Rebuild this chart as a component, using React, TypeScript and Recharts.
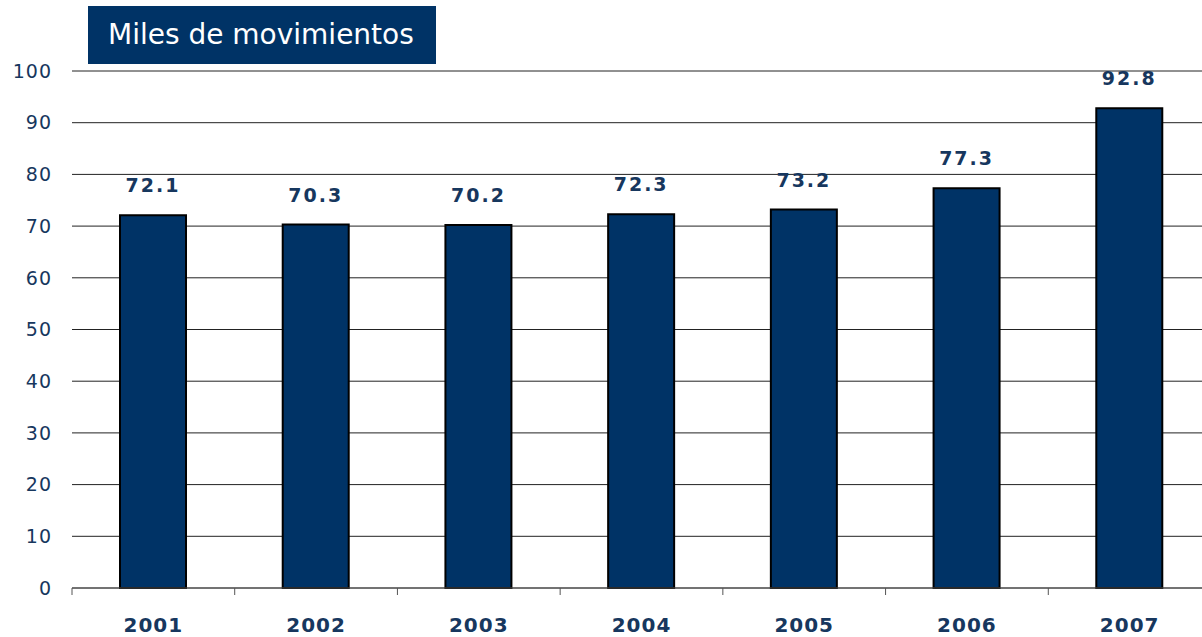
import { BarChart, Bar, XAxis, YAxis, CartesianGrid, LabelList } from 'recharts';

const years = ['2001', '2002', '2003', '2004', '2005', '2006', '2007'];
const movimientos = [72.1, 70.3, 70.2, 72.3, 73.2, 77.3, 92.8];
const yTicks = [0, 10, 20, 30, 40, 50, 60, 70, 80, 90, 100];

const data = years.map((year, i) => ({ year, value: movimientos[i] }));

const CHART_W = 1220;
const CHART_H = 637;
const LEFT = 72;
const RIGHT = 9;
const BAND = (CHART_W - LEFT - RIGHT) / years.length;

const navy = '#003366';
const textNavy = '#17375e';
const font = '"DejaVu Sans", Verdana, sans-serif';

const YearTick = (props: any) => {
  const { x, y, payload, index } = props;
  return (
    <g>
      <line x1={x - BAND / 2} x2={x - BAND / 2} y1={y} y2={y + 7} stroke="#555" strokeWidth={1} />
      {index === years.length - 1 && (
        <line x1={x + BAND / 2} x2={x + BAND / 2} y1={y} y2={y + 7} stroke="#555" strokeWidth={1} />
      )}
      <text
        x={x}
        y={y + 44}
        textAnchor="middle"
        fill={textNavy}
        fontFamily={font}
        fontWeight="bold"
        fontSize={20}
        letterSpacing={1}
      >
        {payload.value}
      </text>
    </g>
  );
};

export default function App() {
  return (
    <div
      style={{
        position: 'absolute',
        left: 0,
        top: 0,
        width: 1202,
        height: 637,
        overflow: 'hidden',
        background: '#fff',
      }}
    >
      <BarChart
        width={CHART_W}
        height={CHART_H}
        data={data}
        margin={{ top: 71, right: RIGHT, left: 0, bottom: 0 }}
      >
        <CartesianGrid vertical={false} stroke="#222" strokeWidth={1} />
        <XAxis
          dataKey="year"
          height={49}
          axisLine={{ stroke: '#555', strokeWidth: 1 }}
          tickLine={false}
          tickSize={0}
          tickMargin={0}
          tick={<YearTick />}
          interval={0}
        />
        <YAxis
          width={LEFT}
          domain={[0, 100]}
          ticks={yTicks}
          interval={0}
          axisLine={false}
          tickLine={false}
          tickSize={0}
          tickMargin={20}
          tick={{ fill: textNavy, fontFamily: font, fontSize: 19, letterSpacing: 1 }}
        />
        <Bar dataKey="value" fill={navy} stroke="#000" strokeWidth={2} barSize={66} isAnimationActive={false}>
          <LabelList
            dataKey="value"
            position="top"
            offset={23}
            fill={textNavy}
            fontFamily={font}
            fontWeight="bold"
            fontSize={19}
            letterSpacing={2}
            formatter={(v: any) => Number(v).toFixed(1)}
          />
        </Bar>
      </BarChart>
      <div
        style={{
          position: 'absolute',
          left: 88,
          top: 6,
          width: 348,
          height: 58,
          background: navy,
          color: '#fff',
          fontFamily: font,
          fontSize: 28,
          lineHeight: '58px',
          boxSizing: 'border-box',
          paddingLeft: 20,
          whiteSpace: 'nowrap',
        }}
      >
        Miles de movimientos
      </div>
    </div>
  );
}
